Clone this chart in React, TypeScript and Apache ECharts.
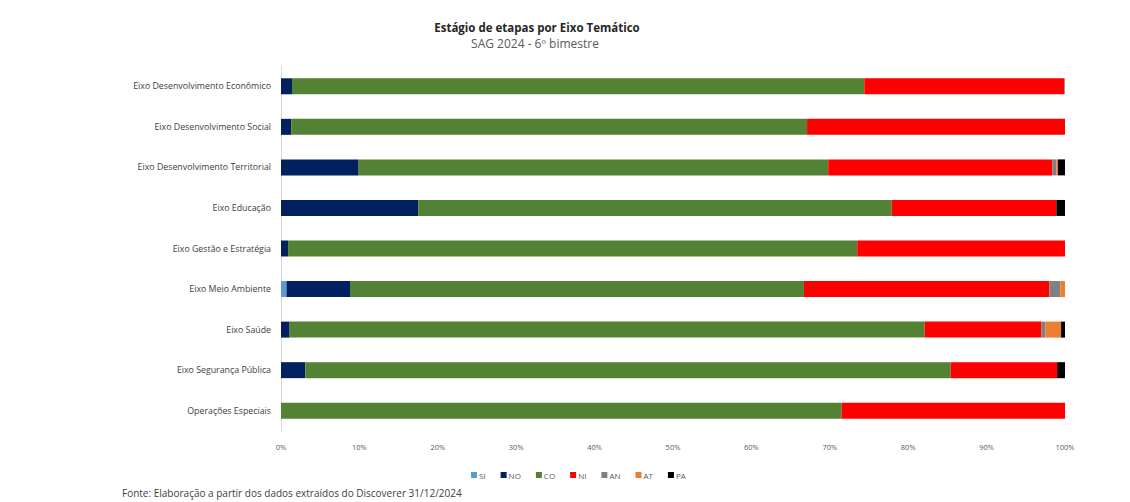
import React, { useEffect, useRef } from "react";
import * as echarts from "echarts";

const categories = [
  "Eixo Desenvolvimento Econômico",
  "Eixo Desenvolvimento Social",
  "Eixo Desenvolvimento Territorial",
  "Eixo Educação",
  "Eixo Gestão e Estratégia",
  "Eixo Meio Ambiente",
  "Eixo Saúde",
  "Eixo Segurança Pública",
  "Operações Especiais",
];

const seriesNames = ["SI", "NO", "CO", "NI", "AN", "AT", "PA"];
const seriesColors = ["#5B9BD5", "#002060", "#548235", "#FF0000", "#808080", "#ED7D31", "#000000"];

const siValues = [0, 0, 0, 0, 0, 0.7, 0, 0, 0];
const noValues = [1.4, 1.3, 9.9, 17.5, 0.9, 8.1, 1.1, 3.1, 0];
const coValues = [73.0, 65.8, 59.9, 60.4, 72.6, 57.9, 81.0, 82.3, 71.5];
const niValues = [25.5, 32.9, 28.6, 21.0, 26.5, 31.3, 14.9, 13.6, 28.5];
const anValues = [0.1, 0, 0.5, 0, 0, 1.4, 0.5, 0, 0];
const atValues = [0, 0, 0.2, 0, 0, 0.6, 2.0, 0, 0];
const paValues = [0, 0, 0.9, 1.1, 0, 0, 0.5, 1.0, 0];

const allValues = [siValues, noValues, coValues, niValues, anValues, atValues, paValues];

const xTicks = [0, 10, 20, 30, 40, 50, 60, 70, 80, 90, 100];

const titleText = "Estágio de etapas por Eixo Temático";
const subtitleText = "SAG 2024 - 6º bimestre";
const footerText = "Fonte: Elaboração a partir dos dados extraídos do Discoverer 31/12/2024";

export default function App() {
  const ref = useRef<HTMLDivElement>(null);
  useEffect(() => {
    document.body.style.margin = "0";
    if (!ref.current) return;
    const chart = echarts.init(ref.current, null, { renderer: "svg" });
    const font = "Open Sans";
    chart.setOption({
      animation: false,
      backgroundColor: "#ffffff",
      textStyle: { fontFamily: font },
      graphic: [
        {
          type: "text",
          x: 537,
          y: 21,
          style: {
            text: titleText,
            fontFamily: font,
            fontSize: 11.5,
            fontWeight: "bold",
            fill: "#262626",
            textAlign: "center",
          },
        },
        {
          type: "text",
          x: 535,
          y: 37,
          style: {
            text: subtitleText,
            fontFamily: font,
            fontSize: 12,
            fill: "#595959",
            textAlign: "center",
          },
        },
        {
          type: "text",
          x: 122,
          y: 488,
          style: {
            text: footerText,
            fontFamily: font,
            fontSize: 10,
            fill: "#404040",
          },
        },
      ],
      legend: {
        data: seriesNames,
        left: 466,
        top: 466,
        itemWidth: 6,
        itemHeight: 6,
        itemGap: 15,
        icon: "rect",
        textStyle: { fontSize: 8, color: "#595959", fontFamily: font, padding: [0, 0, 0, -3] },
      },
      grid: { left: 281, right: 65, top: 66, bottom: 71 },
      xAxis: {
        type: "value",
        min: 0,
        max: 100,
        interval: 10,
        axisLine: { show: false },
        axisTick: { show: false },
        splitLine: { show: false },
        axisLabel: {
          formatter: (v: number) => (xTicks.includes(v) ? v + "%" : ""),
          fontSize: 7.5,
          color: "#595959",
          margin: 12,
          fontFamily: font,
        },
      },
      yAxis: {
        type: "category",
        data: categories,
        inverse: true,
        axisLine: { show: true, lineStyle: { color: "#d9d9d9", width: 1 } },
        axisTick: { show: false },
        axisLabel: { fontSize: 8.8, color: "#404040", margin: 10, fontFamily: font },
      },
      series: seriesNames.map((name, i) => ({
        name,
        type: "bar",
        stack: "total",
        barWidth: 16,
        itemStyle: { color: seriesColors[i] },
        data: allValues[i],
      })),
    });
    return () => chart.dispose();
  }, []);
  return <div ref={ref} style={{ width: 1130, height: 502 }} />;
}
